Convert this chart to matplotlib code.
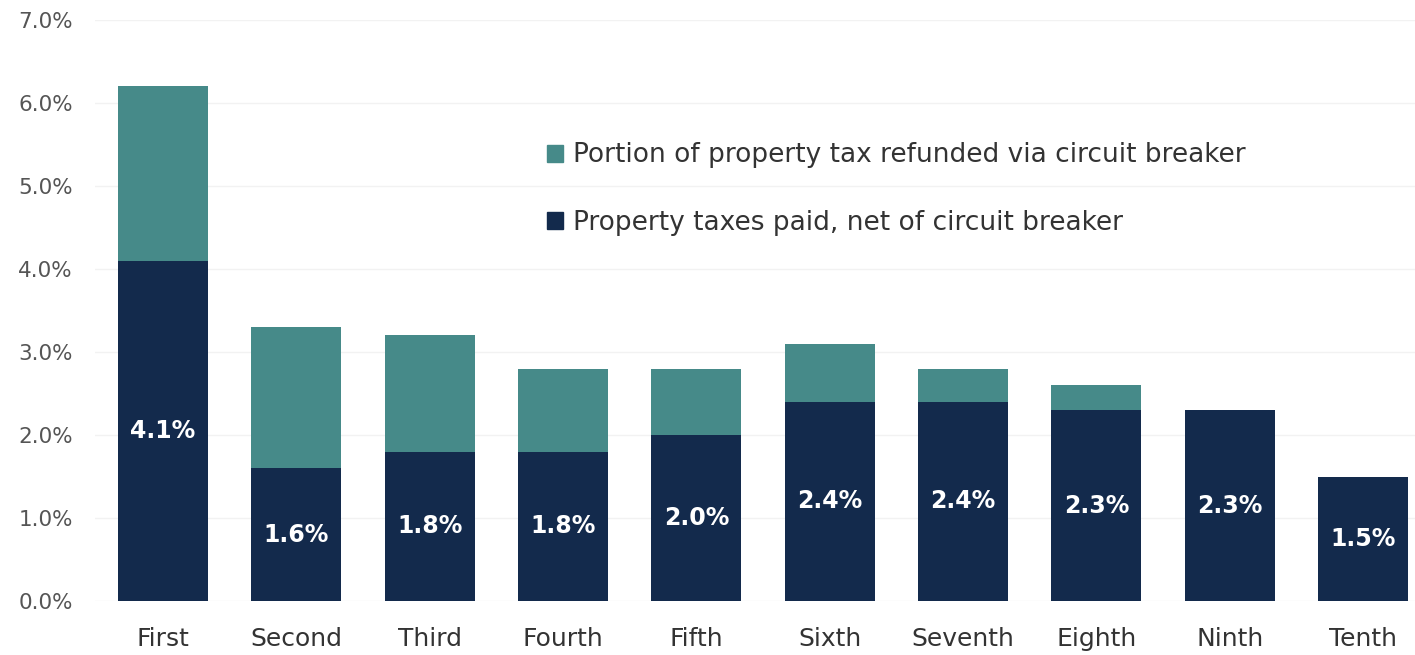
import matplotlib.pyplot as plt
from matplotlib.patches import Patch
from matplotlib.ticker import FuncFormatter

# datos
deciles = ["First", "Second", "Third", "Fourth", "Fifth",
           "Sixth", "Seventh", "Eighth", "Ninth", "Tenth"]
net_paid = [4.1, 1.6, 1.8, 1.8, 2.0, 2.4, 2.4, 2.3, 2.3, 1.5]
refunded = [2.1, 1.7, 1.4, 1.0, 0.8, 0.7, 0.4, 0.3, 0.0, 0.0]

navy = "#132a4c"
teal = "#468a89"

plt.rcParams['font.family'] = ['DejaVu Sans']

fig = plt.figure(figsize=(14.15, 6.55), dpi=100)
ax = fig.add_axes([95 / 1415, 54 / 655, 1320 / 1415, 581 / 655])

x = list(range(len(deciles)))
w = 0.675
ax.bar(x, net_paid, width=w, color=navy, zorder=2)
ax.bar(x, refunded, width=w, bottom=net_paid, color=teal, zorder=2)

# etiquetas dentro de las barras
for xi, v in zip(x, net_paid):
    ax.text(xi, v / 2, f"{v:.1f}%", ha="center", va="center",
            color="white", fontsize=17, fontweight="semibold", zorder=3)

ax.set_ylim(0, 7)
ax.set_xlim(-0.51, 9.39)
ax.set_yticks([0, 1, 2, 3, 4, 5, 6, 7])
ax.yaxis.set_major_formatter(FuncFormatter(lambda v, p: f"{v:.1f}%"))
ax.set_xticks(x)
ax.set_xticklabels(deciles)
ax.grid(axis="y", color="#f2f2f2", linewidth=1, zorder=0)
for s in ax.spines.values():
    s.set_visible(False)
ax.tick_params(axis="y", length=0, pad=16, labelsize=15.5, labelcolor="#555555")
ax.tick_params(axis="x", length=0, pad=18.5, labelsize=18, labelcolor="#333333")

handles = [Patch(color=teal, label="Portion of property tax refunded via circuit breaker"),
           Patch(color=navy, label="Property taxes paid, net of circuit breaker")]
fig.legend(handles=handles, loc="upper left", bbox_to_anchor=(523.3 / 1415, 1 - 118.7 / 655),
           frameon=False, fontsize=19, labelcolor="#333333", handlelength=0.61,
           handleheight=0.61, handletextpad=0.38, labelspacing=1.56)

fig.savefig("out.png")
